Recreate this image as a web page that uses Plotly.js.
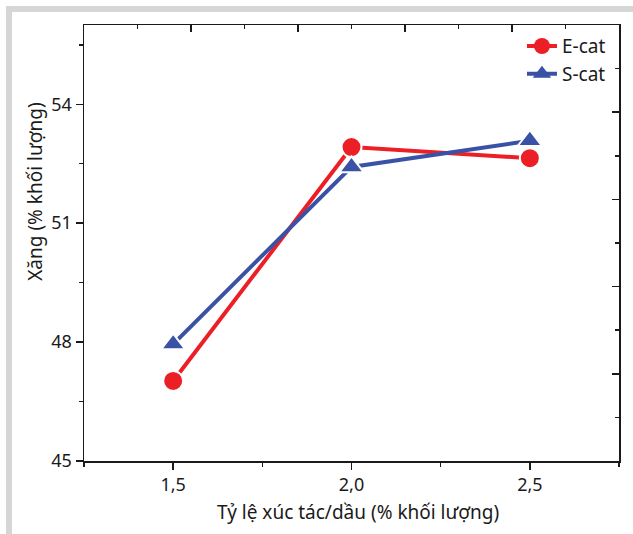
<!DOCTYPE html>
<html>
<head>
<meta charset="utf-8">
<script src="https://cdn.plot.ly/plotly-3.0.1.min.js"></script>
<style>
  html, body { margin: 0; padding: 0; background: #ffffff; }
  #wrap { position: relative; width: 633px; height: 534px; }
  #chart { width: 633px; height: 534px; }
  #frame { position: absolute; left: 6px; top: 6px; width: 640px; height: 523px;
           border-left: 6px solid #d6d6d6; border-top: 6px solid #d6d6d6; border-bottom: 4px solid #d6d6d6;
           pointer-events: none; }
</style>
</head>
<body>
<div id="wrap">
  <div id="chart"></div>
  <div id="frame"></div>
</div>
<script>
// Data
const ratios = [1.5, 2.0, 2.5];
const eCat = [47.02, 52.92, 52.64];
const sCat = [47.95, 52.42, 53.08];
const seriesNames = ['E-cat', 'S-cat'];
const xTitle = 'Tỷ lệ xúc tác/dầu (% khối lượng)';
const yTitle = 'Xăng (% khối lượng)';

const FONT = 'Noto Sans, Open Sans, sans-serif';
const RED = '#ec1f26';
const BLUE = '#3a52a5';
const INK = '#1a1a1a';

const traces = [
  {
    x: ratios, y: eCat, name: seriesNames[0], type: 'scatter', mode: 'lines+markers', showlegend: false,
    line: { color: RED, width: 4 },
    marker: { symbol: 'circle', size: 20, color: RED, line: { color: '#ffffff', width: 2 } }
  },
  {
    x: ratios, y: sCat, name: seriesNames[1], type: 'scatter', mode: 'lines+markers', showlegend: false,
    line: { color: BLUE, width: 4 },
    marker: { symbol: 'triangle-up', size: 21, color: BLUE, line: { color: '#ffffff', width: 2 } }
  },
  // legend entries (no data points drawn)
  {
    x: [null], y: [null], name: seriesNames[0], type: 'scatter', mode: 'lines+markers', hoverinfo: 'skip',
    line: { color: RED, width: 4 }, marker: { symbol: 'circle', size: 18, color: RED }
  },
  {
    x: [null], y: [null], name: seriesNames[1], type: 'scatter', mode: 'lines+markers', hoverinfo: 'skip',
    line: { color: BLUE, width: 4 }, marker: { symbol: 'triangle-up', size: 20, color: BLUE }
  },
  // invisible helper so the top / right frame axes get drawn
  {
    x: [null], y: [null], xaxis: 'x2', yaxis: 'y2', type: 'scatter', mode: 'markers',
    showlegend: false, hoverinfo: 'skip', marker: { opacity: 0 }
  }
];

const frameAxis = {
  range: [0, 5], dtick: 1, tick0: 0,
  showgrid: false, zeroline: false, showline: true, linecolor: INK, linewidth: 1.5,
  ticks: 'inside', ticklen: 7, tickwidth: 1.5, tickcolor: INK, showticklabels: false,
  minor: { dtick: 0.5, ticks: 'inside', ticklen: 4, tickwidth: 1.5, tickcolor: INK, showgrid: false },
  fixedrange: true
};

const layout = {
  width: 633, height: 534,
  margin: { l: 84, r: 14, t: 25, b: 73 },
  paper_bgcolor: '#ffffff', plot_bgcolor: '#ffffff',
  separators: ', ',
  font: { family: FONT, size: 18, color: INK },
  showlegend: true,
  legend: {
    x: 0.985, xanchor: 'right', y: 0.995, yanchor: 'top',
    bgcolor: 'rgba(0,0,0,0)', font: { family: FONT, size: 19, color: INK },
    tracegroupgap: 0, itemwidth: 30, itemsizing: 'trace'
  },
  xaxis: {
    range: [1.25, 2.75], tick0: 1.5, dtick: 0.5, tickformat: '.1f',
    showgrid: false, zeroline: false, showline: true, linecolor: INK, linewidth: 1.5,
    ticks: 'outside', ticklen: 7, tickwidth: 1.5, tickcolor: INK,
    minor: { dtick: 0.25, ticks: 'outside', ticklen: 4, tickwidth: 1.5, tickcolor: INK, showgrid: false },
    tickfont: { family: FONT, size: 18, color: INK }
  },
  yaxis: {
    range: [45, 56], tick0: 45, dtick: 3,
    showgrid: false, zeroline: false, showline: true, linecolor: INK, linewidth: 1.5,
    ticks: 'outside', ticklen: 7, tickwidth: 1.5, tickcolor: INK,
    minor: { dtick: 1.5, ticks: 'outside', ticklen: 4, tickwidth: 1.5, tickcolor: INK, showgrid: false },
    tickfont: { family: FONT, size: 18, color: INK }
  },
  xaxis2: Object.assign({ overlaying: 'x', side: 'top', anchor: 'y' }, frameAxis),
  yaxis2: Object.assign({ overlaying: 'y', side: 'right', anchor: 'x' }, frameAxis),
  annotations: [
    { text: xTitle, xref: 'paper', yref: 'paper', x: 0.513, y: -0.118, xanchor: 'center', yanchor: 'middle',
      showarrow: false, font: { family: FONT, size: 19, color: INK } },
    { text: yTitle, xref: 'paper', yref: 'paper', x: -0.092, y: 0.617, xanchor: 'center', yanchor: 'middle',
      textangle: -90, showarrow: false, font: { family: FONT, size: 19, color: INK } }
  ]
};

Plotly.newPlot('chart', traces, layout, { staticPlot: true, displayModeBar: false });
</script>
</body>
</html>
